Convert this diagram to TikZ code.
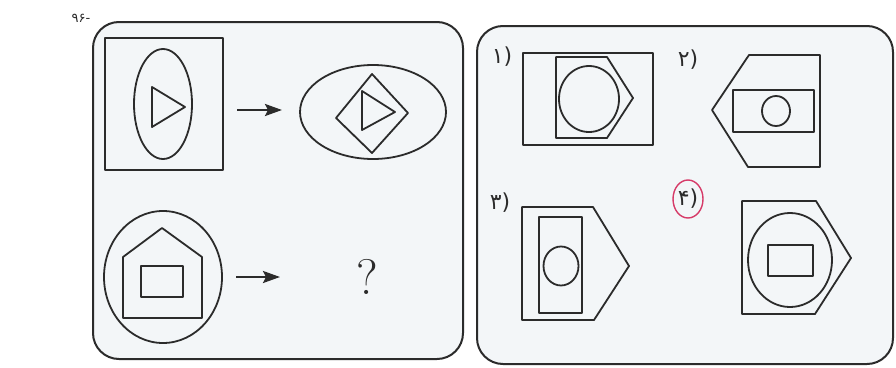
\documentclass[tikz,border=0pt]{standalone}
\usepackage{fontspec}
\usetikzlibrary{arrows.meta, positioning}
\newfontfamily\digitfont{DejaVu Sans}
\definecolor{panelFill}{HTML}{F3F6F8}
\definecolor{inkGrey}{HTML}{2B2B2B}
\definecolor{markRed}{HTML}{D63A68}
\tikzset{
  % one unit is one pixel of the sheet, y runs downwards
  every picture/.append style = {x=1pt, y=-1pt, line join=round},
  panel/.style    = {draw=inkGrey, line width=2pt, fill=panelFill, rounded corners=26pt},
  figline/.style  = {draw=inkGrey, line width=1.8pt},
  maparrow/.style = {-{Stealth[length=17pt, width=12pt, inset=3pt]}, line width=2.4pt, inkGrey},
  optlbl/.style   = {font=\digitfont\fontsize{22}{22}\selectfont, inkGrey, inner sep=0pt},
}

\begin{document}
\begin{tikzpicture}[
    qmark/.style={font=\fontsize{50}{50}\selectfont, inkGrey, inner sep=0pt},
    ringmark/.style={draw=markRed, line width=1.4pt}]
  \useasboundingbox (0,0) rectangle (896,367);
  % the two panels
  \draw[panel] (93,22) rectangle (463,359);
  \draw[panel] (477,26) rectangle (893,364);
  \node[font=\digitfont\fontsize{13}{13}\selectfont, inkGrey, inner sep=0pt] (qnum) at (81,18) {۹۶-};
  % first pair: square with ellipse, then ellipse with diamond
  \draw[figline] (105,38) rectangle (223,170);
  \draw[figline] (163,104) ellipse (29pt and 55pt);
  \draw[figline] (152,87) -- (152,127) -- (185,107) -- cycle;
  \coordinate (arrAs) at (237,110);
  \coordinate (arrAe) at (282,110);
  \draw[maparrow] (arrAs) -- (arrAe);
  \draw[figline] (373,112) ellipse (73pt and 47pt);
  \draw[figline] (372,74) -- (408,113) -- (372,153) -- (336,118) -- cycle;
  \draw[figline] (362,91) -- (362,130) -- (395,112) -- cycle;
  % second pair: circle with house, then the question
  \draw[figline] (163,277) ellipse (59pt and 66pt);
  \draw[figline] (123,318) -- (123,257) -- (162,228) -- (202,257) -- (202,318) -- cycle;
  \draw[figline] (141,266) rectangle (183,297);
  \coordinate (arrBs) at (236,277);
  \coordinate (arrBe) at (280,277);
  \draw[maparrow] (arrBs) -- (arrBe);
  \node[qmark] (ask) at (367,277) {?};
  % option 1
  \node[optlbl] (opt1) at (502,57) {۱)};
  \draw[figline] (523,53) rectangle (653,145);
  \draw[figline] (556,57) -- (607,57) -- (633,98) -- (607,138) -- (556,138) -- cycle;
  \draw[figline] (589,99) ellipse (30pt and 33pt);
  % option 2
  \node[optlbl] (opt2) at (688,60) {۲)};
  \draw[figline] (820,55) -- (749,55) -- (712,110) -- (748,167) -- (820,167) -- cycle;
  \draw[figline] (733,90) rectangle (814,132);
  \draw[figline] (776,111) ellipse (14pt and 15pt);
  % option 3
  \node[optlbl] (opt3) at (500,203) {۳)};
  \draw[figline] (522,207) -- (593,207) -- (629,266) -- (594,320) -- (522,320) -- cycle;
  \draw[figline] (539,217) rectangle (582,313);
  \draw[figline] (561,266) ellipse (17.5pt and 19.5pt);
  % option 4, ringed by hand
  \node[optlbl] (opt4) at (688,199) {۴)};
  \draw[ringmark] (opt4) ellipse (15pt and 19pt);
  \draw[figline] (742,201) -- (816,201) -- (851,258) -- (815,314) -- (742,314) -- cycle;
  \draw[figline] (790,260) ellipse (42pt and 47pt);
  \draw[figline] (768,245) rectangle (813,276);
\end{tikzpicture}
\end{document}
